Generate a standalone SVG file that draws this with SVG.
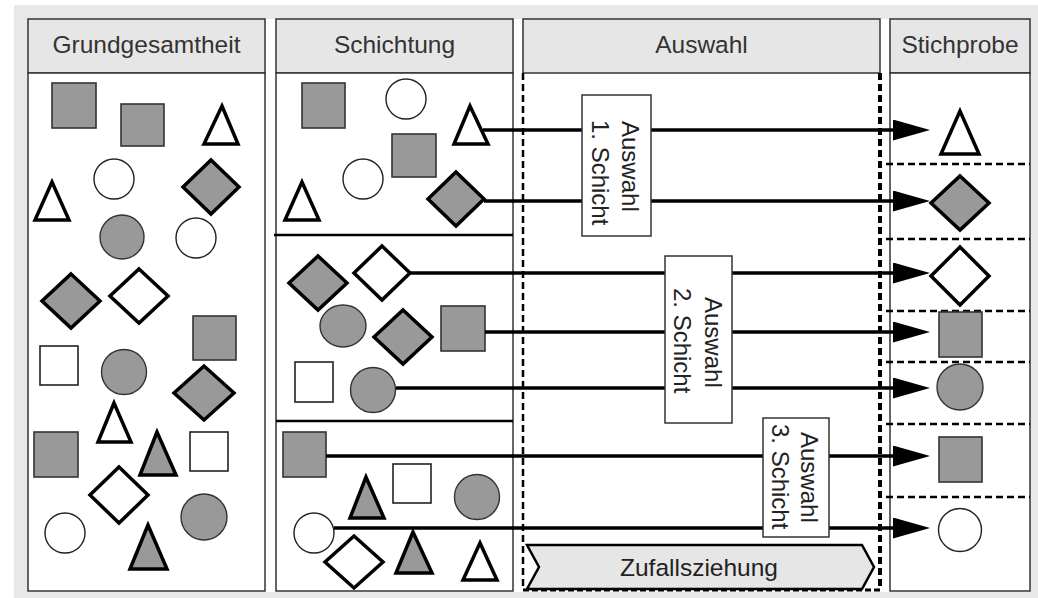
<svg xmlns="http://www.w3.org/2000/svg" width="1038" height="598" viewBox="0 0 1038 598">
<defs>
<style>
.hdr{fill:#e6e6e6;stroke:#333;stroke-width:1.5}
.body{fill:#fff;stroke:#333;stroke-width:1.5}
.ht{font-family:"Liberation Sans",Arial,sans-serif;font-size:24.5px;fill:#333;text-anchor:middle}
.lt{font-family:"Liberation Sans",Arial,sans-serif;font-size:24px;fill:#222}
.sqg{fill:#999;stroke:#333;stroke-width:1.6}
.sqw{fill:#fff;stroke:#222;stroke-width:1.6}
.cig{fill:#999;stroke:#333;stroke-width:1.4}
.ciw{fill:#fff;stroke:#222;stroke-width:1.4}
.tg{fill:#999;stroke:#000;stroke-width:3.5;stroke-linejoin:miter}
.tw{fill:#fff;stroke:#000;stroke-width:3.5;stroke-linejoin:miter}
.con{stroke:#000;stroke-width:3.5;fill:none;marker-end:url(#ah)}
.sep{stroke:#000;stroke-width:2.5;stroke-dasharray:7 4}
.lbox{fill:#fff;stroke:#333;stroke-width:1.5}
</style>
<marker id="ah" markerUnits="userSpaceOnUse" markerWidth="40" markerHeight="24" refX="7" refY="10.5" orient="auto">
<path d="M0,0 L37,10.5 L0,21 Z" fill="#000"/>
</marker>
</defs>
<rect x="0" y="0" width="1038" height="598" fill="#fff"/>
<rect x="14" y="5" width="1024" height="593" fill="#e8e8e8"/>
<rect x="28" y="19" width="1002" height="573" fill="#fff"/>

<g id="grundgesamtheit">
<rect class="hdr" x="28" y="19" width="237" height="54"/>
<rect class="body" x="28" y="73" width="237" height="518"/>
<text class="ht" x="146.5" y="53">Grundgesamtheit</text>
<rect class="sqg" x="52" y="83" width="44" height="45"/>
<rect class="sqg" x="121" y="104" width="43" height="42"/>
<polygon class="tw" points="222,106 204,144 238,144"/>
<circle class="ciw" cx="114" cy="179" r="20"/>
<polygon class="tg" points="211,160 239,187 211,214 183,187"/>
<polygon class="tw" points="52,182 35,220 69,220"/>
<circle class="cig" cx="122" cy="237" r="22"/>
<circle class="ciw" cx="196" cy="238" r="20"/>
<polygon class="tg" points="71,274 100,301 71,328 42,301"/>
<polygon class="tw" points="139,269 168,296 139,323 110,296"/>
<rect class="sqg" x="193" y="316" width="43" height="44"/>
<rect class="sqw" x="40" y="346" width="38" height="39"/>
<circle class="cig" cx="124" cy="372" r="22.5"/>
<polygon class="tg" points="204,366 234,393 204,420 174,393"/>
<polygon class="tw" points="114,403 98,442 131,442"/>
<rect class="sqg" x="34" y="432" width="44" height="45"/>
<polygon class="tg" points="157,432 140,475 176,475"/>
<rect class="sqw" x="190" y="432" width="38" height="39"/>
<polygon class="tw" points="119,467 148,495 119,523 90,495"/>
<circle class="ciw" cx="65" cy="533" r="20"/>
<circle class="cig" cx="204" cy="517" r="23"/>
<polygon class="tg" points="148,525 130,569 167,569"/>
</g>

<g id="schichtung">
<rect class="hdr" x="276" y="19" width="237" height="54"/>
<rect class="body" x="276" y="73" width="237" height="518"/>
<text class="ht" x="394.5" y="53">Schichtung</text>
<line x1="274" y1="235" x2="513" y2="235" stroke="#000" stroke-width="2.5"/>
<line x1="276" y1="421" x2="513" y2="421" stroke="#000" stroke-width="2.5"/>
<rect class="sqg" x="302" y="83" width="43" height="45"/>
<circle class="ciw" cx="406" cy="99" r="20"/>
<polygon class="tw" points="470,106 454,144 488,144"/>
<rect class="sqg" x="392" y="134" width="44" height="43"/>
<circle class="ciw" cx="363" cy="179" r="20"/>
<polygon class="tw" points="302,182 285,220 319,220"/>
<polygon class="tg" points="456,172 484,199 456,226 428,199"/>
<polygon class="tg" points="318,256 347,283 318,310 289,283"/>
<polygon class="tw" points="382,246 410,273 382,300 354,273"/>
<ellipse class="cig" cx="343" cy="326" rx="23" ry="21"/>
<polygon class="tg" points="403,310 432,337 403,364 374,337"/>
<rect class="sqg" x="441" y="306" width="44" height="45"/>
<rect class="sqw" x="295" y="362" width="38" height="40"/>
<circle class="cig" cx="373" cy="390" r="22.5"/>
<rect class="sqg" x="283" y="432" width="43" height="45"/>
<polygon class="tg" points="366,477 350,518 384,518"/>
<rect class="sqw" x="393" y="464" width="38" height="39"/>
<circle class="cig" cx="477" cy="497" r="22.5"/>
<circle class="ciw" cx="314" cy="533" r="20"/>
<polygon class="tw" points="354,536 383,562 354,588 325,562"/>
<polygon class="tg" points="413,532 396,573 432,573"/>
<polygon class="tw" points="480,543 463,580 497,580"/>
</g>

<g id="stichprobe">
<rect class="hdr" x="890" y="19" width="140" height="54"/>
<rect class="body" x="890" y="73" width="140" height="518"/>
<text class="ht" x="960" y="53">Stichprobe</text>
<line class="sep" x1="886" y1="164" x2="1030" y2="164"/>
<line class="sep" x1="886" y1="239" x2="1030" y2="239"/>
<line class="sep" x1="886" y1="311" x2="1030" y2="311"/>
<line class="sep" x1="886" y1="362" x2="1030" y2="362"/>
<line class="sep" x1="886" y1="424" x2="1030" y2="424"/>
<line class="sep" x1="886" y1="497" x2="1030" y2="497"/>
<polygon class="tw" points="960,111 941,154 979,154"/>
<polygon class="tg" points="960,176 989,203 960,230 931,203"/>
<polygon class="tw" points="960,247 989,276 960,305 931,276"/>
<rect class="sqg" x="939" y="312" width="43" height="45"/>
<circle class="cig" cx="960" cy="387" r="23"/>
<rect class="sqg" x="939" y="437" width="43" height="45"/>
<circle class="ciw" cx="960" cy="530" r="21.5"/>
</g>

<g id="auswahl">
<rect class="hdr" x="523" y="19" width="357" height="54"/>
<text class="ht" x="701.5" y="53">Auswahl</text>
<line x1="523" y1="73" x2="523" y2="590" stroke="#000" stroke-width="2.5" stroke-dasharray="7 4"/>
<line x1="880" y1="73" x2="880" y2="590" stroke="#000" stroke-width="4" stroke-dasharray="7 4"/>
<line x1="523" y1="590" x2="880" y2="590" stroke="#000" stroke-width="3" stroke-dasharray="6 3"/>
</g>

<g id="connectors">
<line class="con" x1="483" y1="130" x2="900" y2="130"/>
<line class="con" x1="484" y1="201" x2="900" y2="201"/>
<line class="con" x1="410" y1="273" x2="900" y2="273"/>
<line class="con" x1="485" y1="332" x2="900" y2="332"/>
<line class="con" x1="396" y1="388" x2="900" y2="388"/>
<line class="con" x1="326" y1="456" x2="900" y2="456"/>
<line class="con" x1="334" y1="528" x2="900" y2="528"/>
</g>

<g id="label1">
<rect class="lbox" x="582" y="95" width="69" height="141"/>
<text class="lt" transform="translate(622,121) rotate(90)">Auswahl</text>
<text class="lt" transform="translate(592,120) rotate(90)">1. Schicht</text>
</g>
<g id="label2">
<rect class="lbox" x="665" y="256" width="67" height="167"/>
<text class="lt" transform="translate(705,297) rotate(90)">Auswahl</text>
<text class="lt" transform="translate(674,288) rotate(90)">2. Schicht</text>
</g>
<g id="label3">
<rect class="lbox" x="763" y="418" width="66" height="119"/>
<text class="lt" transform="translate(801,432) rotate(90)">Auswahl</text>
<text class="lt" transform="translate(772,424) rotate(90)">3. Schicht</text>
</g>

<g id="zufallsziehung">
<polygon points="527,545 862,545 874,567 862,589 527,589 539,567" fill="#e6e6e6" stroke="#000" stroke-width="2.5" stroke-linejoin="miter"/>
<text class="ht" x="699" y="576" style="fill:#222">Zufallsziehung</text>
</g>
</svg>
